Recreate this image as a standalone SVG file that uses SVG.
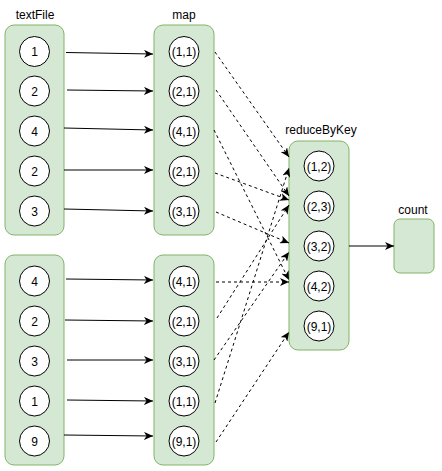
<svg xmlns="http://www.w3.org/2000/svg" width="442" height="471" viewBox="0 0 442 471">
<defs>
<marker id="arr" markerWidth="10" markerHeight="8" refX="9" refY="4" orient="auto" markerUnits="userSpaceOnUse">
<path d="M0,0 L9,4 L0,8 L2.5,4 z" fill="#000"/>
</marker>
<style>
.box{fill:#d5e8d4;stroke:#82b366;stroke-width:1}
.c{fill:#fff;stroke:#000;stroke-width:1}
text{font-family:"Liberation Sans",Arial,sans-serif;font-size:12px;fill:#000;text-anchor:middle}
.e{stroke:#000;stroke-width:1;fill:none;marker-end:url(#arr)}
.d{stroke-dasharray:3 3}
</style>
</defs>
<rect width="442" height="471" fill="#fff"/>
<g id="labels">
<text x="35" y="19">textFile</text>
<text x="184" y="19">map</text>
<text x="321" y="134">reduceByKey</text>
<text x="413" y="214">count</text>
</g>
<g id="textFile1">
<rect class="box" x="5" y="25" width="59" height="210" rx="9"/>
<circle class="c" cx="34.5" cy="51.5" r="15"/><text x="34.5" y="56">1</text>
<circle class="c" cx="34.5" cy="91" r="15"/><text x="34.5" y="95.5">2</text>
<circle class="c" cx="34.5" cy="131" r="15"/><text x="34.5" y="135.5">4</text>
<circle class="c" cx="34.5" cy="171" r="15"/><text x="34.5" y="175.5">2</text>
<circle class="c" cx="34.5" cy="211" r="15"/><text x="34.5" y="215.5">3</text>
</g>
<g id="map1">
<rect class="box" x="154" y="25" width="60" height="210" rx="9"/>
<circle class="c" cx="184" cy="51.5" r="15"/><text x="184" y="56">(1,1)</text>
<circle class="c" cx="184" cy="91" r="15"/><text x="184" y="95.5">(2,1)</text>
<circle class="c" cx="184" cy="131" r="15"/><text x="184" y="135.5">(4,1)</text>
<circle class="c" cx="184" cy="171" r="15"/><text x="184" y="175.5">(2,1)</text>
<circle class="c" cx="184" cy="211" r="15"/><text x="184" y="215.5">(3,1)</text>
</g>
<g id="textFile2">
<rect class="box" x="5" y="255" width="59" height="210" rx="9"/>
<circle class="c" cx="34.5" cy="281" r="15"/><text x="34.5" y="285.5">4</text>
<circle class="c" cx="34.5" cy="321" r="15"/><text x="34.5" y="325.5">2</text>
<circle class="c" cx="34.5" cy="361" r="15"/><text x="34.5" y="365.5">3</text>
<circle class="c" cx="34.5" cy="401" r="15"/><text x="34.5" y="405.5">1</text>
<circle class="c" cx="34.5" cy="441" r="15"/><text x="34.5" y="445.5">9</text>
</g>
<g id="map2">
<rect class="box" x="154" y="255" width="60" height="210" rx="9"/>
<circle class="c" cx="184" cy="281" r="15"/><text x="184" y="285.5">(4,1)</text>
<circle class="c" cx="184" cy="321" r="15"/><text x="184" y="325.5">(2,1)</text>
<circle class="c" cx="184" cy="361" r="15"/><text x="184" y="365.5">(3,1)</text>
<circle class="c" cx="184" cy="401" r="15"/><text x="184" y="405.5">(1,1)</text>
<circle class="c" cx="184" cy="441" r="15"/><text x="184" y="445.5">(9,1)</text>
</g>
<g id="reduceByKey">
<rect class="box" x="289" y="141" width="60" height="209" rx="9"/>
<circle class="c" cx="319" cy="166" r="15"/><text x="319" y="170.5">(1,2)</text>
<circle class="c" cx="319" cy="206" r="15"/><text x="319" y="210.5">(2,3)</text>
<circle class="c" cx="319" cy="246" r="15"/><text x="319" y="250.5">(3,2)</text>
<circle class="c" cx="319" cy="286" r="15"/><text x="319" y="290.5">(4,2)</text>
<circle class="c" cx="319" cy="326" r="15"/><text x="319" y="330.5">(9,1)</text>
</g>
<g id="count">
<rect class="box" x="394" y="219" width="40" height="54" rx="6"/>
</g>
<g id="connectors">
<path class="e" d="M66,52.5 L153,54"/>
<path class="e" d="M67,90 L153,91"/>
<path class="e" d="M64,128 L153,130"/>
<path class="e" d="M64,170 L153,170"/>
<path class="e" d="M64,209 L153,211"/>
<path class="e" d="M66,279 L153,280"/>
<path class="e" d="M65,320 L153,321"/>
<path class="e" d="M67,360 L153,360"/>
<path class="e" d="M67,400 L153,401"/>
<path class="e" d="M64,435 L153,436"/>
<path class="e d" d="M215,52 L289,157"/>
<path class="e d" d="M216,90 L289,196"/>
<path class="e d" d="M214,130 L289,280"/>
<path class="e d" d="M215,173 L289,200"/>
<path class="e d" d="M216,212 L289,243"/>
<path class="e d" d="M216,282 L289,282"/>
<path class="e d" d="M217,318 L289,205"/>
<path class="e d" d="M214,360 L289,252"/>
<path class="e d" d="M215,403 L289,168"/>
<path class="e d" d="M216,442 L289,332"/>
<path class="e" d="M349,246 L394,246"/>
</g>
</svg>
